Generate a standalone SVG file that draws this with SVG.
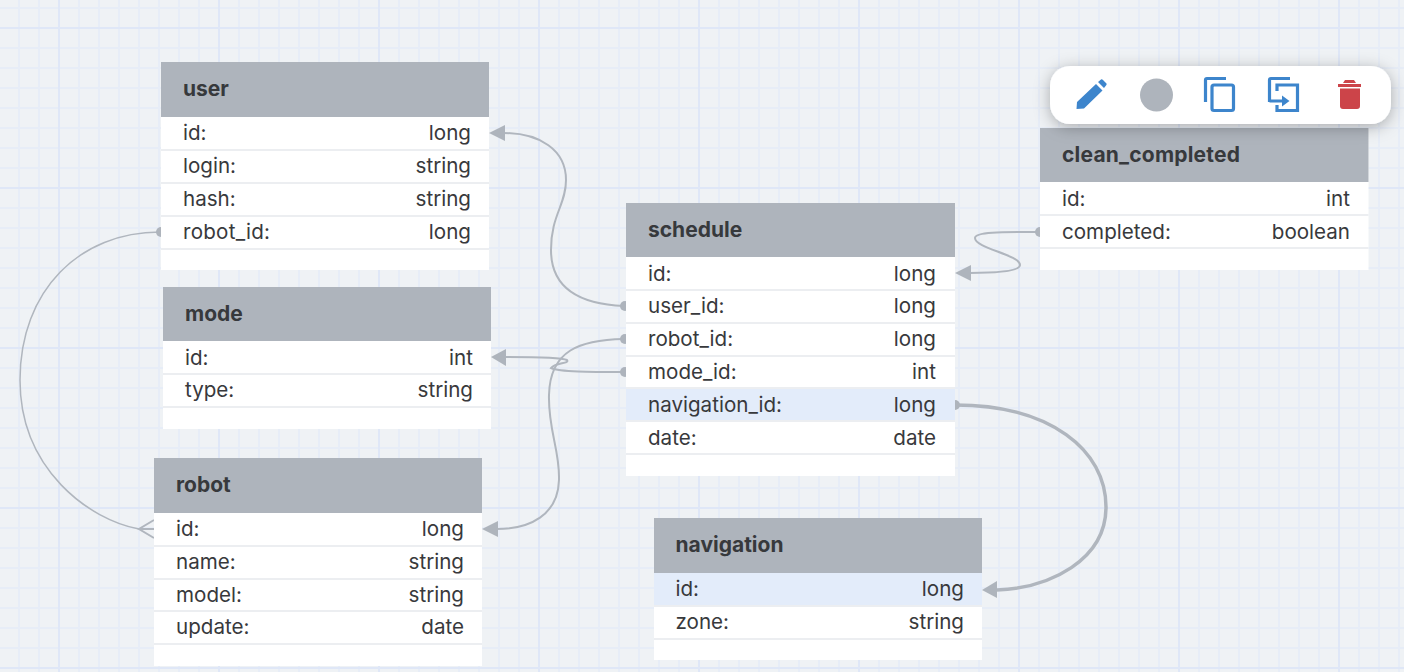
<svg xmlns="http://www.w3.org/2000/svg" width="1404" height="672" viewBox="0 0 1404 672">
<defs>
<style>
text{font-family:"Inter","Liberation Sans",sans-serif;font-size:20.6px;fill:#38393c}
.h{font-weight:700;font-size:21px;fill:#37393c}
.r{text-anchor:end}
.hd{fill:#aeb4bc}
.bd{fill:#fff}
.sep{stroke:#eceef1;stroke-width:2}
.hl{fill:#e3ecfa}
.c{fill:none;stroke:#b0b6be;stroke-width:2}
.a{fill:#aeb4bc}
.ic{fill:none;stroke:#3d85cc;stroke-width:3.2}
</style>
<pattern id="gs" width="20" height="20" patternUnits="userSpaceOnUse" x="-2" y="7"><path d="M1 0V20M0 1H20" stroke="#e7edf7" stroke-width="2" fill="none"/></pattern>
<pattern id="gl" width="160" height="160" patternUnits="userSpaceOnUse" x="58" y="27"><path d="M1 0V160M0 1H160" stroke="#dfe7f7" stroke-width="2" fill="none"/></pattern>
<filter id="sh" x="-10%" y="-40%" width="120%" height="190%"><feDropShadow dx="0" dy="3" stdDeviation="8" flood-color="#000" flood-opacity=".3"/></filter>
</defs>
<rect width="1404" height="672" fill="#eff2f5"/>
<rect width="1404" height="672" fill="url(#gs)"/>
<rect width="1404" height="672" fill="url(#gl)"/>
<g id="connectors">
<path class="c" d="M624 306C575 304 551 285 551 250C551 215 566 205 566 180C566 150 540 133 503 133"/>
<path class="a" d="M489 133L505 125V141Z"/><circle class="a" cx="625" cy="306" r="5"/>
<path class="c" style="stroke-width:1.500" d="M160 232C80 232 20 290 20 380C20 470 90 520 139 529"/>
<path class="c" d="M154 520L139 529L154 538M139 529H154"/><circle class="a" cx="161" cy="232" r="5"/>
<path class="c" d="M624 372C590 372 560 372 551 368C555 362 570 364 567 360C563 358 530 357 505 357"/>
<path class="a" d="M491 357L506 349V366Z"/><circle class="a" cx="625" cy="372" r="5"/>
<path class="c" d="M624 339C580 340 550 350 549 395C548 430 560 450 559 480C558 515 530 529 497 529"/>
<path class="a" d="M482 529L498 521V537Z"/><circle class="a" cx="625" cy="339" r="5"/>
<path class="c" d="M1038 232C1000 232 975 232 975 238C975 248 1020 255 1020 265C1020 272 990 273 970 273"/>
<path class="a" d="M955 273L971 265V281Z"/><circle class="a" cx="1040" cy="232" r="5"/>
<path class="c" style="stroke-width:3.500" d="M955 405C1050 405 1106 450 1106 507C1106 560 1050 588 997 590"/>
<path class="a" d="M982 590L997 581V598Z"/><circle class="a" cx="955" cy="405" r="5"/>
</g>
<g id="user"><rect class="bd" x="161" y="62" width="328" height="208"/><rect class="hd" x="161" y="62" width="328" height="55"/>
<path class="sep" d="M161 150H489M161 183H489M161 216H489M161 249H489"/>
<text class="h" x="183" y="96">user</text>
<text x="183" y="140">id:</text><text class="r" x="471" y="140">long</text>
<text x="183" y="173">login:</text><text class="r" x="471" y="173">string</text>
<text x="183" y="206">hash:</text><text class="r" x="471" y="206">string</text>
<text x="183" y="239" textLength="87">robot_id:</text><text class="r" x="471" y="239">long</text></g>
<g id="mode"><rect class="bd" x="163" y="287" width="328" height="142"/><rect class="hd" x="163" y="287" width="328" height="54"/>
<path class="sep" d="M163 374H491M163 407H491"/>
<text class="h" x="185" y="321">mode</text>
<text x="185" y="365">id:</text><text class="r" x="473" y="365">int</text>
<text x="185" y="397">type:</text><text class="r" x="473" y="397">string</text></g>
<g id="robot"><rect class="bd" x="154" y="458" width="328" height="208"/><rect class="hd" x="154" y="458" width="328" height="55"/>
<path class="sep" d="M154 546H482M154 579H482M154 611H482M154 644H482"/>
<text class="h" x="176" y="492">robot</text>
<text x="176" y="536">id:</text><text class="r" x="464" y="536">long</text>
<text x="176" y="569">name:</text><text class="r" x="464" y="569">string</text>
<text x="176" y="602">model:</text><text class="r" x="464" y="602">string</text>
<text x="176" y="634">update:</text><text class="r" x="464" y="634">date</text></g>
<g id="schedule"><rect class="bd" x="626" y="203" width="329" height="273"/><rect class="hd" x="626" y="203" width="329" height="54"/>
<rect class="hl" x="626" y="389" width="329" height="32"/>
<path class="sep" d="M626 290H955M626 323H955M626 356H955M626 388H955M626 421H955M626 454H955"/>
<text class="h" x="648" y="237">schedule</text>
<text x="648" y="281">id:</text><text class="r" x="936" y="281">long</text>
<text x="648" y="313">user_id:</text><text class="r" x="936" y="313">long</text>
<text x="648" y="346">robot_id:</text><text class="r" x="936" y="346">long</text>
<text x="648" y="379">mode_id:</text><text class="r" x="936" y="379">int</text>
<text x="648" y="412">navigation_id:</text><text class="r" x="936" y="412">long</text>
<text x="648" y="445">date:</text><text class="r" x="936" y="445">date</text></g>
<g id="navigation"><rect class="bd" x="654" y="518" width="328" height="142"/><rect class="hd" x="654" y="518" width="328" height="55"/>
<rect class="hl" x="654" y="573" width="328" height="33"/>
<path class="sep" d="M654 606H982M654 639H982"/>
<text class="h" x="675.500" y="552">navigation</text>
<text x="675.500" y="596">id:</text><text class="r" x="964" y="596">long</text>
<text x="675.500" y="629">zone:</text><text class="r" x="964" y="629">string</text></g>
<g id="clean_completed"><rect class="bd" x="1040" y="128" width="328.500" height="142"/><rect class="hd" x="1040" y="128" width="328.500" height="54"/>
<path class="sep" d="M1040 215H1368.500M1040 248H1368.500"/>
<text class="h" x="1062" y="162" textLength="178">clean_completed</text>
<text x="1062" y="206">id:</text><text class="r" x="1350" y="206">int</text>
<text x="1062" y="239">completed:</text><text class="r" x="1350" y="239">boolean</text></g>
<g id="toolbar"><rect x="1050" y="66" width="341" height="58" rx="20" fill="#fff" filter="url(#sh)"/>
<path fill="#3d85cc" d="M1076.500 109L1077 102L1096 84L1102.500 90.500L1084 108.500ZM1098 82L1101 79.500Q1102 79 1103 80L1106.500 83.500Q1107 84.500 1106 85.500L1104 88Z"/>
<circle cx="1156.500" cy="95" r="16.500" fill="#aeb4bc"/>
<path class="ic" d="M1205.500 102V80Q1205.500 78.500 1207 78.500H1226"/><rect class="ic" x="1212" y="85" width="21.500" height="25.500" rx="2"/>
<path class="ic" d="M1269.500 102V80Q1269.500 78.500 1271 78.500H1290M1277 91V85H1297.500V110.500H1277V105M1269.500 101H1283"/><path fill="#3d85cc" d="M1282 95.500L1289.500 101L1282 106.500Z"/>
<path fill="#cc4449" d="M1338 84H1361V87H1338ZM1345 80H1354L1356 83H1343ZM1340 88.500H1360V106Q1360 109 1357 109H1343Q1340 109 1340 106Z"/>
</g>
</svg>
